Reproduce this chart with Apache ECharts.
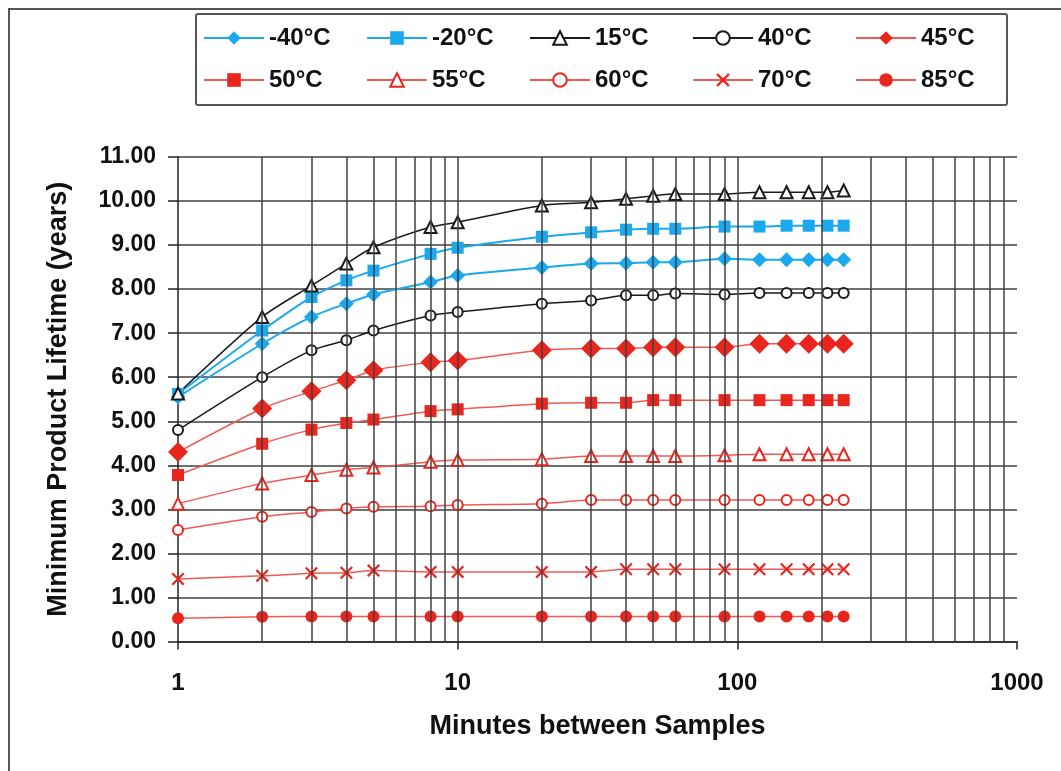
<!DOCTYPE html>
<html>
<head>
<meta charset="utf-8">
<script src="https://cdn.jsdelivr.net/npm/echarts@6/dist/echarts.min.js"></script>
<style>
html,body{margin:0;padding:0;background:#fff;}
#chart{width:1061px;height:771px;}
</style>
</head>
<body>
<div id="chart"></div>
<script>
const minutes = [1, 2, 3, 4, 5, 8, 10, 20, 30, 40, 50, 60, 90, 120, 150, 180, 210, 240];
const seriesNames = ['-40°C', '-20°C', '15°C', '40°C', '45°C', '50°C', '55°C', '60°C', '70°C', '85°C'];
const tM40 = [5.55, 6.76, 7.37, 7.67, 7.88, 8.16, 8.31, 8.49, 8.58, 8.59, 8.61, 8.61, 8.69, 8.67, 8.67, 8.67, 8.67, 8.67];
const tM20 = [5.62, 7.06, 7.82, 8.20, 8.42, 8.80, 8.94, 9.19, 9.29, 9.35, 9.37, 9.37, 9.42, 9.42, 9.44, 9.44, 9.44, 9.44];
const t15 = [5.63, 7.37, 8.08, 8.58, 8.95, 9.41, 9.52, 9.90, 9.97, 10.05, 10.12, 10.16, 10.16, 10.20, 10.20, 10.20, 10.20, 10.24];
const t40 = [4.80, 6.00, 6.61, 6.84, 7.06, 7.40, 7.48, 7.67, 7.74, 7.86, 7.86, 7.90, 7.88, 7.91, 7.91, 7.91, 7.91, 7.91];
const t45 = [4.30, 5.29, 5.68, 5.93, 6.16, 6.34, 6.38, 6.61, 6.65, 6.65, 6.68, 6.68, 6.68, 6.76, 6.76, 6.76, 6.76, 6.76];
const t50 = [3.78, 4.49, 4.81, 4.96, 5.04, 5.23, 5.27, 5.40, 5.42, 5.42, 5.48, 5.48, 5.48, 5.48, 5.48, 5.48, 5.48, 5.48];
const t55 = [3.13, 3.59, 3.78, 3.90, 3.95, 4.08, 4.12, 4.14, 4.21, 4.21, 4.21, 4.21, 4.23, 4.25, 4.25, 4.25, 4.25, 4.25];
const t60 = [2.53, 2.83, 2.94, 3.02, 3.06, 3.07, 3.10, 3.13, 3.21, 3.21, 3.21, 3.21, 3.21, 3.21, 3.21, 3.21, 3.21, 3.21];
const t70 = [1.42, 1.49, 1.55, 1.56, 1.61, 1.58, 1.58, 1.58, 1.58, 1.64, 1.64, 1.64, 1.64, 1.64, 1.64, 1.64, 1.64, 1.64];
const t85 = [0.53, 0.56, 0.57, 0.57, 0.57, 0.57, 0.57, 0.57, 0.57, 0.57, 0.57, 0.57, 0.57, 0.57, 0.57, 0.57, 0.57, 0.57];
const yTicks = [0, 11, 1];
const minorGridX = [2, 3, 4, 5, 6, 7, 8, 9, 10, 20, 30, 40, 50, 60, 70, 80, 90, 100, 200, 300, 400, 500, 600, 700, 800, 900];

const FONT = '"Liberation Sans", Arial, sans-serif';
const BLUE = '#1aa9ee';
const RED = '#e8261e';
const REDLINE = '#f05a55';
const BLACK = '#1a1a1a';
const XPATH = 'path://M0,1.2L1.2,0L5,3.8L8.8,0L10,1.2L6.2,5L10,8.8L8.8,10L5,6.2L1.2,10L0,8.8L3.8,5Z';

const styles = [
  {data: tM40, color: BLUE, line: BLUE, w: 2, symbol: 'diamond', size: 15},
  {data: tM20, color: BLUE, line: BLUE, w: 2, symbol: 'rect', size: 12},
  {data: t15, color: BLACK, line: BLACK, w: 1.5, symbol: 'emptyTriangle', size: 12},
  {data: t40, color: BLACK, line: BLACK, w: 1.5, symbol: 'emptyCircle', size: 10},
  {data: t45, color: RED, line: REDLINE, w: 1.5, symbol: 'diamond', size: 20},
  {data: t50, color: RED, line: REDLINE, w: 1.5, symbol: 'rect', size: 12},
  {data: t55, color: RED, line: REDLINE, w: 1.5, symbol: 'emptyTriangle', size: 12},
  {data: t60, color: RED, line: REDLINE, w: 1.5, symbol: 'emptyCircle', size: 10},
  {data: t70, color: RED, line: REDLINE, w: 1.5, symbol: XPATH, size: 13},
  {data: t85, color: RED, line: REDLINE, w: 1.5, symbol: 'circle', size: 12}
];

const series = styles.map((s, k) => ({
  name: seriesNames[k],
  type: 'line',
  smooth: 0.25,
  data: minutes.map((m, i) => [m, s.data[i]]),
  symbol: s.symbol,
  symbolSize: s.size,
  showAllSymbol: true,
  z: 3,
  lineStyle: {color: s.line, width: s.w},
  itemStyle: {color: s.color, borderColor: s.color, borderWidth: s.symbol.indexOf('empty') === 0 ? 1.5 : 0}
}));

series.push({
  type: 'line',
  data: [],
  z: 1,
  silent: true,
  markLine: {
    silent: true,
    symbol: ['none', 'none'],
    label: {show: false},
    lineStyle: {color: '#404040', width: 1.5, type: 'solid'},
    emphasis: {disabled: true},
    data: minorGridX.map(v => ({xAxis: v}))
  }
});

const chart = echarts.init(document.getElementById('chart'));
chart.setOption({
  animation: false,
  backgroundColor: '#fff',
  textStyle: {fontFamily: FONT},
  graphic: [{
    type: 'rect', silent: true, z: -10,
    shape: {x: 9, y: 9, width: 1100, height: 800},
    style: {fill: 'none', stroke: '#555', lineWidth: 2}
  }],
  legend: {
    data: seriesNames,
    left: 196, top: 14, width: 807,
    padding: [12, 7, 13, 7],
    itemGap: 18, itemWidth: 60, itemHeight: 17,
    borderColor: '#555', borderWidth: 2, borderRadius: 2,
    selectedMode: false,
    textStyle: {fontFamily: FONT, fontWeight: 'bold', fontSize: 24, color: '#111', width: 79, lineHeight: 24}
  },
  grid: {left: 178, right: 44, top: 157, bottom: 129.5},
  xAxis: {
    type: 'log', logBase: 10, min: 1, max: 1000,
    axisLine: {lineStyle: {color: '#222', width: 1.5}},
    axisTick: {length: 8, lineStyle: {color: '#222', width: 1.5}},
    splitLine: {show: false},
    minorTick: {show: false},
    axisLabel: {fontFamily: FONT, fontWeight: 'bold', fontSize: 24, color: '#111', margin: 30,
      formatter: v => String(Math.round(v))},
    name: 'Minutes between Samples', nameLocation: 'middle', nameGap: 72,
    nameTextStyle: {fontFamily: FONT, fontWeight: 'bold', fontSize: 27, color: '#111'}
  },
  yAxis: {
    type: 'value', min: yTicks[0], max: yTicks[1], interval: yTicks[2],
    axisLine: {show: true, lineStyle: {color: '#222', width: 1.5}},
    axisTick: {show: true, length: 10, lineStyle: {color: '#222', width: 1.5}},
    splitLine: {show: true, lineStyle: {color: '#404040', width: 1.5}},
    axisLabel: {fontFamily: FONT, fontWeight: 'bold', fontSize: 23, color: '#111', margin: 22,
      formatter: v => v.toFixed(2)},
    name: 'Minimum Product Lifetime (years)', nameLocation: 'middle', nameGap: 106, nameRotate: 90,
    nameTextStyle: {fontFamily: FONT, fontWeight: 'bold', fontSize: 27, color: '#111'}
  },
  series: series
});
</script>
</body>
</html>
